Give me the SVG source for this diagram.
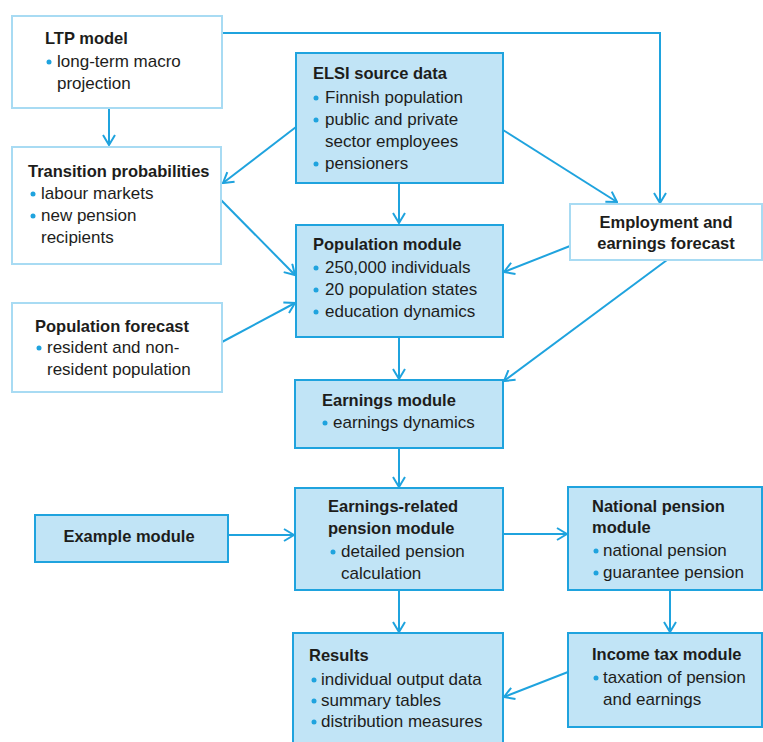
<svg xmlns="http://www.w3.org/2000/svg" width="763" height="742" viewBox="0 0 763 742">
<style>
text{font-family:"Liberation Sans",Arial,sans-serif;font-size:17px;fill:#1d1d1b}
.t{font-weight:bold;font-size:16.5px}
.c{text-anchor:middle}
.w{fill:#ffffff;stroke:#a8dbf3;stroke-width:2}
.b{fill:#c1e4f6;stroke:#1fa3de;stroke-width:2}
.d{fill:#1fa3de}
.cn path,.cn line,.cn polyline{fill:none;stroke:#1fa3de;stroke-width:2}
</style>
<defs>
<marker id="ar" viewBox="0 0 12 14" refX="11" refY="7" markerWidth="12" markerHeight="14" markerUnits="userSpaceOnUse" orient="auto">
<path d="M1,1 L11,7 L1,13" fill="none" stroke="#1fa3de" stroke-width="2"/>
</marker>
</defs>
<rect width="763" height="742" fill="#ffffff"/>
<g class="cn">
<line x1="109" y1="108" x2="109" y2="145" marker-end="url(#ar)"/>
<polyline points="222,33 660,33 660,203" marker-end="url(#ar)"/>
<line x1="296" y1="127" x2="223" y2="183" marker-end="url(#ar)"/>
<line x1="503" y1="130" x2="617" y2="202" marker-end="url(#ar)"/>
<line x1="399" y1="183" x2="399" y2="223" marker-end="url(#ar)"/>
<line x1="221" y1="200" x2="295" y2="275" marker-end="url(#ar)"/>
<line x1="570" y1="246" x2="504" y2="272" marker-end="url(#ar)"/>
<line x1="222" y1="342" x2="295" y2="303" marker-end="url(#ar)"/>
<line x1="399" y1="337" x2="399" y2="379" marker-end="url(#ar)"/>
<line x1="667" y1="260" x2="504" y2="381" marker-end="url(#ar)"/>
<line x1="399" y1="448" x2="399" y2="487" marker-end="url(#ar)"/>
<line x1="228" y1="535" x2="294" y2="535" marker-end="url(#ar)"/>
<line x1="503" y1="534" x2="567" y2="534" marker-end="url(#ar)"/>
<line x1="670" y1="590" x2="670" y2="632" marker-end="url(#ar)"/>
<line x1="399" y1="590" x2="399" y2="632" marker-end="url(#ar)"/>
<line x1="568" y1="672" x2="504" y2="697" marker-end="url(#ar)"/>
</g>
<g id="ltp">
<rect class="w" x="12" y="16" width="210" height="92"/>
<text class="t" x="45" y="44">LTP model</text>
<circle class="d" cx="49" cy="62" r="2.5"/>
<text x="57" y="67">long-term macro</text>
<text x="57" y="89">projection</text>
</g>
<g id="elsi">
<rect class="b" x="296" y="53" width="207" height="130"/>
<text class="t" x="313" y="79">ELSI source data</text>
<circle class="d" cx="316" cy="98" r="2.5"/>
<text x="325" y="103">Finnish population</text>
<circle class="d" cx="316" cy="120" r="2.5"/>
<text x="325" y="125">public and private</text>
<text x="325" y="147">sector employees</text>
<circle class="d" cx="316" cy="164" r="2.5"/>
<text x="325" y="169">pensioners</text>
</g>
<g id="transition">
<rect class="w" x="12" y="147" width="209" height="117"/>
<text class="t" x="28" y="177">Transition probabilities</text>
<circle class="d" cx="33" cy="194" r="2.5"/>
<text x="41" y="199">labour markets</text>
<circle class="d" cx="33" cy="216" r="2.5"/>
<text x="41" y="221">new pension</text>
<text x="41" y="243">recipients</text>
</g>
<g id="population">
<rect class="b" x="296" y="225" width="207" height="112"/>
<text class="t" x="313" y="250">Population module</text>
<circle class="d" cx="316" cy="268" r="2.5"/>
<text x="325" y="273">250,000 individuals</text>
<circle class="d" cx="316" cy="290" r="2.5"/>
<text x="325" y="295">20 population states</text>
<circle class="d" cx="316" cy="312" r="2.5"/>
<text x="325" y="317">education dynamics</text>
</g>
<g id="employment">
<rect class="w" x="570" y="204" width="192" height="56"/>
<text class="t c" x="666" y="228">Employment and</text>
<text class="t c" x="666" y="249">earnings forecast</text>
</g>
<g id="popforecast">
<rect class="w" x="12" y="303" width="210" height="89"/>
<text class="t" x="35" y="332">Population forecast</text>
<circle class="d" cx="39" cy="348" r="2.5"/>
<text x="47" y="353">resident and non-</text>
<text x="47" y="375">resident population</text>
</g>
<g id="earnings">
<rect class="b" x="295" y="380" width="208" height="68"/>
<text class="t" x="322" y="406">Earnings module</text>
<circle class="d" cx="325" cy="423" r="2.5"/>
<text x="333" y="428">earnings dynamics</text>
</g>
<g id="example">
<rect class="b" x="35" y="515" width="193" height="47"/>
<text class="t c" x="129" y="542">Example module</text>
</g>
<g id="erpension">
<rect class="b" x="295" y="488" width="208" height="102"/>
<text class="t" x="328" y="512">Earnings-related</text>
<text class="t" x="328" y="534">pension module</text>
<circle class="d" cx="333" cy="552" r="2.5"/>
<text x="341" y="557">detailed pension</text>
<text x="341" y="579">calculation</text>
</g>
<g id="national">
<rect class="b" x="568" y="487" width="194" height="103"/>
<text class="t" x="592" y="512">National pension</text>
<text class="t" x="592" y="533">module</text>
<circle class="d" cx="596" cy="551" r="2.5"/>
<text x="603" y="556">national pension</text>
<circle class="d" cx="596" cy="573" r="2.5"/>
<text x="603" y="578">guarantee pension</text>
</g>
<g id="results">
<rect class="b" x="293" y="633" width="210" height="112"/>
<text class="t" x="309" y="661">Results</text>
<circle class="d" cx="314" cy="680" r="2.5"/>
<text x="321" y="685">individual output data</text>
<circle class="d" cx="314" cy="701" r="2.5"/>
<text x="321" y="706">summary tables</text>
<circle class="d" cx="314" cy="722" r="2.5"/>
<text x="321" y="727">distribution measures</text>
</g>
<g id="incometax">
<rect class="b" x="568" y="633" width="194" height="94"/>
<text class="t" x="592" y="660">Income tax module</text>
<circle class="d" cx="596" cy="678" r="2.5"/>
<text x="603" y="683">taxation of pension</text>
<text x="603" y="705">and earnings</text>
</g>
</svg>
